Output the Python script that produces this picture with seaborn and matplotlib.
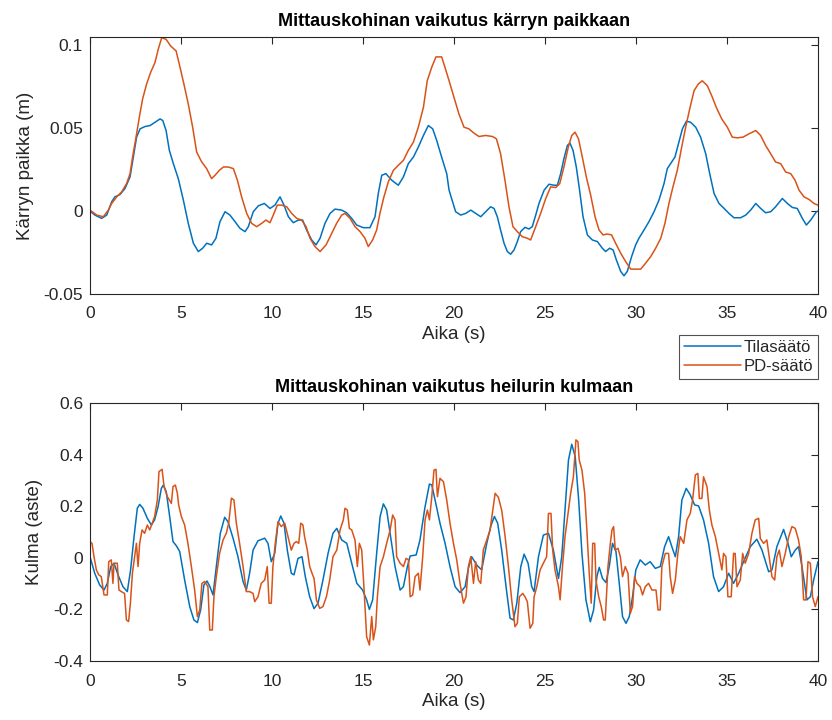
import numpy as np
import pandas as pd
import matplotlib
matplotlib.use("Agg")
import matplotlib.pyplot as plt
import seaborn as sns

# ---- data: cart position (m) ----
pos_tila_t = [0, 0.27, 0.64, 0.92, 1.19, 1.37, 1.65, 1.92, 2.2, 2.38, 2.56, 2.75, 3.02, 3.3, 3.57,
              3.85, 4.0, 4.18, 4.36, 4.58, 4.85, 5.13, 5.4, 5.68, 5.95, 6.19, 6.41, 6.68, 6.92, 7.14,
              7.42, 7.69, 7.97, 8.24, 8.52, 8.7, 8.97, 9.25, 9.58, 9.89, 10.16, 10.44, 10.66, 10.9,
              11.17, 11.45, 11.68, 11.9, 12.18, 12.42, 12.64, 12.91, 13.19, 13.46, 13.83, 14.1,
              14.38, 14.65, 15.02, 15.38, 15.66, 15.84, 16.03, 16.26, 16.58, 16.94, 17.22, 17.49,
              17.77, 18.04, 18.32, 18.59, 18.83, 19.05, 19.32, 19.6, 19.73, 20.09, 20.37, 20.64,
              20.92, 21.19, 21.47, 21.74, 22.01, 22.2, 22.38, 22.56, 22.75, 22.93, 23.11, 23.3,
              23.48, 23.66, 23.9, 24.12, 24.3, 24.49, 24.67, 24.95, 25.22, 25.49, 25.68, 25.86,
              26.04, 26.23, 26.37, 26.54, 26.72, 26.9, 27.09, 27.33, 27.6, 27.88, 28.15, 28.33,
              28.55, 28.74, 28.92, 29.16, 29.34, 29.52, 29.76, 29.98, 30.16, 30.44, 30.71, 30.99,
              31.26, 31.54, 31.72, 31.9, 32.14, 32.33, 32.55, 32.77, 33.0, 33.28, 33.55, 33.83,
              34.05, 34.29, 34.56, 34.84, 35.11, 35.38, 35.75, 36.03, 36.3, 36.58, 36.85, 37.12,
              37.4, 37.67, 38.04, 38.32, 38.59, 38.86, 39.14, 39.36, 39.6, 39.91, 40.0]
pos_tila_v = [0, -0.0024, -0.0044, -0.0024, 0.0056, 0.0086, 0.01, 0.0136, 0.0206, 0.0326, 0.0446,
              0.0496, 0.051, 0.0516, 0.0536, 0.0556, 0.0546, 0.0486, 0.0366, 0.0286, 0.0196,
              0.0066, -0.0074, -0.0194, -0.0244, -0.0224, -0.0194, -0.0204, -0.0164, -0.0064,
              -0.0004, -0.0024, -0.0064, -0.0104, -0.0124, -0.0094, -0.0004, 0.0032, 0.0046,
              0.0016, 0.0036, 0.0086, 0.0036, -0.0034, -0.007, -0.0054, -0.0054, -0.0114, -0.0174,
              -0.0204, -0.0164, -0.0074, -0.0014, 0.0012, 0.0006, -0.001, -0.0044, -0.0084, -0.01,
              -0.01, -0.0034, 0.0106, 0.0216, 0.0226, 0.0186, 0.0156, 0.0206, 0.0286, 0.0326,
              0.0386, 0.0456, 0.0516, 0.0496, 0.0426, 0.0326, 0.0226, 0.0126, -0.0004, -0.0024,
              -0.0014, 0.0006, -0.0014, -0.0034, -0.0004, 0.0026, 0.0016, -0.0034, -0.0114,
              -0.0194, -0.0244, -0.026, -0.0234, -0.0184, -0.0124, -0.0098, -0.0108, -0.0094,
              -0.0024, 0.0046, 0.0126, 0.0162, 0.0156, 0.0156, 0.0226, 0.0316, 0.0396, 0.041,
              0.0366, 0.0266, 0.0126, -0.0034, -0.0144, -0.0174, -0.0184, -0.0224, -0.0244,
              -0.0224, -0.0234, -0.0294, -0.0364, -0.039, -0.0364, -0.0274, -0.0204, -0.0164,
              -0.0114, -0.0064, -0.0004, 0.0066, 0.0166, 0.0256, 0.0286, 0.0326, 0.0406, 0.0496,
              0.0542, 0.0536, 0.0506, 0.0446, 0.0346, 0.0226, 0.0106, 0.0046, 0.0016, -0.0014,
              -0.004, -0.004, -0.0024, 0.0006, 0.0046, 0.0016, -0.001, -0.0004, 0.0026, 0.0076,
              0.0046, 0.0022, 0.0016, -0.0044, -0.0084, -0.0054, -0.0004, 0.0]

pos_pd_t = [0, 0.37, 0.73, 1.01, 1.19, 1.47, 1.74, 2.01, 2.2, 2.34, 2.53, 2.71, 2.89, 3.11, 3.33,
            3.57, 3.75, 3.94, 4.18, 4.43, 4.73, 4.95, 5.16, 5.4, 5.64, 5.86, 6.14, 6.41, 6.68, 6.87,
            7.11, 7.33, 7.6, 7.88, 8.1, 8.33, 8.61, 8.88, 9.16, 9.43, 9.67, 9.89, 10.07, 10.29,
            10.53, 10.81, 11.08, 11.36, 11.63, 11.87, 12.09, 12.36, 12.64, 12.97, 13.28, 13.55,
            13.83, 14.01, 14.29, 14.56, 14.84, 15.11, 15.29, 15.53, 15.75, 15.93, 16.15, 16.39,
            16.67, 16.94, 17.22, 17.49, 17.77, 18.04, 18.32, 18.53, 18.77, 19.01, 19.32, 19.45,
            19.73, 20.0, 20.27, 20.55, 20.82, 21.1, 21.37, 21.74, 22.11, 22.33, 22.56, 22.8, 23.02,
            23.24, 23.48, 23.75, 24.03, 24.21, 24.49, 24.76, 25.04, 25.31, 25.59, 25.81, 26.04,
            26.28, 26.47, 26.65, 26.84, 27.05, 27.27, 27.51, 27.75, 27.97, 28.19, 28.42, 28.66,
            28.88, 29.16, 29.43, 29.71, 29.98, 30.26, 30.53, 30.81, 31.08, 31.36, 31.59, 31.81,
            32.03, 32.27, 32.51, 32.73, 32.95, 33.19, 33.42, 33.64, 33.92, 34.16, 34.41, 34.71,
            35.02, 35.29, 35.57, 35.88, 36.21, 36.58, 36.85, 37.12, 37.4, 37.67, 37.95, 38.22,
            38.5, 38.74, 38.96, 39.23, 39.51, 39.78, 40.0]
pos_pd_v = [0.0006, -0.0024, -0.0034, 0.0006, 0.0046, 0.0086, 0.0116, 0.0166, 0.0226, 0.0326, 0.0446,
            0.0566, 0.0676, 0.0766, 0.0836, 0.0896, 0.0976, 0.1046, 0.1036, 0.0996, 0.0966, 0.0866,
            0.0766, 0.0646, 0.0506, 0.0356, 0.0296, 0.0256, 0.0196, 0.0216, 0.0246, 0.0266,
            0.0266, 0.0256, 0.0186, 0.0086, -0.0014, -0.0074, -0.0094, -0.0074, -0.0054, -0.007,
            -0.0024, 0.0036, 0.0036, 0.0026, -0.0014, -0.0044, -0.0054, -0.0094, -0.0164,
            -0.0214, -0.0244, -0.0204, -0.0134, -0.0074, -0.0024, -0.0014, -0.0044, -0.0094,
            -0.0124, -0.0164, -0.0214, -0.0174, -0.0114, -0.0014, 0.0086, 0.0176, 0.0246, 0.0276,
            0.0306, 0.0366, 0.0416, 0.0506, 0.0626, 0.0786, 0.0866, 0.093, 0.093, 0.0886, 0.0786,
            0.0686, 0.0586, 0.0506, 0.0496, 0.047, 0.045, 0.0456, 0.045, 0.0436, 0.0346, 0.0186,
            0.0026, -0.0094, -0.0124, -0.0154, -0.0164, -0.0174, -0.0094, -0.0014, 0.0076,
            0.0146, 0.0142, 0.0166, 0.0266, 0.0386, 0.0456, 0.0476, 0.0436, 0.0326, 0.0206,
            0.0096, -0.0034, -0.0114, -0.0144, -0.0138, -0.0144, -0.0194, -0.0254, -0.0304,
            -0.035, -0.035, -0.035, -0.0314, -0.0274, -0.0224, -0.0164, -0.0074, 0.0046, 0.0146,
            0.0246, 0.0386, 0.0506, 0.0616, 0.0726, 0.0766, 0.0786, 0.0756, 0.0696, 0.0626,
            0.0556, 0.0506, 0.0446, 0.0442, 0.0446, 0.0466, 0.0486, 0.0456, 0.0396, 0.0346,
            0.0296, 0.0286, 0.0236, 0.0226, 0.0186, 0.0126, 0.0086, 0.007, 0.0046, 0.0036]

# ---- data: pendulum angle (deg) ----
ang_tila_t = [0, 0.26, 0.53, 0.77, 0.95, 1.14, 1.32, 1.54, 1.81, 2.05, 2.23, 2.42, 2.6, 2.73, 2.91,
              3.15, 3.37, 3.55, 3.74, 3.92, 4.03, 4.19, 4.38, 4.56, 4.74, 4.93, 5.2, 5.48, 5.71, 5.9,
              6.08, 6.26, 6.43, 6.59, 6.76, 6.94, 7.16, 7.4, 7.58, 7.86, 8.13, 8.41, 8.59, 8.77, 8.96,
              9.23, 9.6, 9.78, 9.96, 10.15, 10.33, 10.48, 10.66, 10.84, 11.06, 11.21, 11.43, 11.65,
              11.83, 12.07, 12.31, 12.53, 12.8, 13.08, 13.35, 13.56, 13.83, 14.11, 14.38, 14.66,
              14.98, 15.2, 15.35, 15.53, 15.75, 15.94, 16.12, 16.3, 16.49, 16.76, 17.04, 17.22,
              17.44, 17.59, 17.92, 18.13, 18.41, 18.65, 18.78, 18.96, 19.23, 19.51, 19.78, 20.06,
              20.33, 20.61, 20.79, 20.97, 21.25, 21.52, 21.8, 22.04, 22.22, 22.4, 22.62, 22.86,
              23.08, 23.26, 23.45, 23.67, 23.85, 24.07, 24.27, 24.4, 24.64, 24.91, 25.19, 25.46,
              25.74, 25.92, 26.1, 26.29, 26.47, 26.66, 26.85, 27.03, 27.25, 27.49, 27.67, 27.85,
              27.98, 28.16, 28.35, 28.53, 28.71, 28.9, 29.08, 29.26, 29.45, 29.63, 29.81, 29.99,
              30.23, 30.51, 30.78, 31.06, 31.33, 31.57, 31.79, 31.97, 32.16, 32.34, 32.52, 32.76,
              32.98, 33.22, 33.44, 33.71, 33.99, 34.26, 34.54, 34.81, 35.09, 35.36, 35.64, 35.91,
              36.28, 36.64, 36.92, 37.29, 37.47, 37.74, 38.11, 38.35, 38.53, 38.75, 38.93, 39.12,
              39.39, 39.58, 39.76, 40.0]
ang_tila_v = [0.004, -0.06, -0.105, -0.125, -0.099, -0.034, -0.021, -0.066, -0.112, -0.131, -0.047,
              0.082, 0.192, 0.207, 0.192, 0.153, 0.127, 0.147, 0.198, 0.269, 0.282, 0.256, 0.159,
              0.063, 0.047, 0.024, -0.086, -0.189, -0.241, -0.251, -0.202, -0.105, -0.09, -0.112,
              -0.144, -0.034, 0.095, 0.157, 0.14, 0.076, 0.004, -0.092, -0.125, -0.06, 0.03, 0.066,
              0.076, 0.056, -0.015, 0.017, 0.134, 0.162, 0.134, 0.03, -0.06, -0.066, -0.002, 0.004,
              -0.073, -0.151, -0.197, -0.176, -0.086, 0.017, 0.095, 0.114, 0.069, 0.056, -0.021,
              -0.099, -0.125, -0.163, -0.2, -0.163, 0.017, 0.16, 0.209, 0.185, 0.095, -0.034, -0.125,
              -0.112, -0.034, 0.007, 0.011, 0.069, 0.198, 0.286, 0.282, 0.224, 0.134, 0.056, -0.034,
              -0.112, -0.135, -0.112, -0.041, 0.004, -0.028, -0.047, 0.056, 0.127, 0.16, 0.134, 0.03,
              -0.112, -0.234, -0.241, -0.176, -0.034, 0.014, -0.021, -0.112, -0.131, 0.004, 0.088,
              0.095, 0.03, -0.08, 0.004, 0.185, 0.379, 0.44, 0.392, 0.224, 0.017, -0.163, -0.248,
              -0.202, -0.073, -0.037, -0.08, -0.096, -0.034, 0.056, 0.024, -0.099, -0.228, -0.254,
              -0.228, -0.151, -0.047, -0.008, -0.028, -0.015, -0.041, -0.034, 0.043, 0.082, 0.043,
              0.004, 0.082, 0.224, 0.269, 0.244, 0.205, 0.201, 0.147, 0.056, -0.073, -0.131, -0.112,
              -0.06, -0.099, -0.06, -0.015, 0.043, 0.072, 0.03, -0.054, -0.047, 0.043, 0.11, 0.056,
              0.004, 0.03, 0.043, -0.034, -0.163, -0.151, -0.086, -0.015]

ang_pd_t = [0, 0.11, 0.22, 0.35, 0.48, 0.62, 0.77, 0.95, 1.03, 1.17, 1.26, 1.32, 1.5, 1.59, 1.72, 1.9,
            2.0, 2.12, 2.22, 2.33, 2.45, 2.55, 2.64, 2.73, 2.86, 3.0, 3.15, 3.28, 3.42, 3.55, 3.7,
            3.79, 3.96, 4.07, 4.25, 4.47, 4.56, 4.69, 4.8, 4.87, 5.02, 5.2, 5.38, 5.57, 5.75, 5.9,
            6.03, 6.15, 6.3, 6.48, 6.58, 6.72, 6.81, 6.94, 7.12, 7.31, 7.49, 7.62, 7.77, 7.91, 8.04,
            8.22, 8.41, 8.59, 8.77, 8.96, 9.05, 9.23, 9.41, 9.6, 9.74, 9.84, 9.96, 10.05, 10.18,
            10.33, 10.51, 10.7, 10.88, 11.06, 11.21, 11.34, 11.47, 11.58, 11.7, 11.79, 11.94, 12.07,
            12.2, 12.31, 12.44, 12.62, 12.8, 12.99, 13.17, 13.35, 13.56, 13.74, 13.92, 14.01, 14.14,
            14.25, 14.38, 14.56, 14.69, 14.8, 14.93, 15.06, 15.2, 15.35, 15.48, 15.57, 15.7, 15.79,
            15.94, 16.12, 16.3, 16.49, 16.63, 16.76, 16.85, 17.04, 17.22, 17.37, 17.5, 17.59, 17.73,
            17.86, 18.04, 18.13, 18.28, 18.41, 18.54, 18.65, 18.78, 18.9, 19.01, 19.09, 19.23,
            19.42, 19.6, 19.78, 19.97, 20.15, 20.33, 20.52, 20.66, 20.79, 20.92, 21.07, 21.19,
            21.34, 21.47, 21.61, 21.8, 21.98, 22.13, 22.26, 22.44, 22.62, 22.81, 22.99, 23.17,
            23.35, 23.48, 23.59, 23.78, 23.9, 24.03, 24.18, 24.33, 24.4, 24.55, 24.73, 24.91, 25.09,
            25.19, 25.33, 25.42, 25.55, 25.74, 25.83, 25.96, 26.1, 26.29, 26.41, 26.56, 26.7,
            26.81, 26.88, 27.03, 27.18, 27.3, 27.43, 27.54, 27.62, 27.73, 27.8, 27.95, 28.09, 28.22,
            28.31, 28.46, 28.59, 28.68, 28.77, 28.86, 29.01, 29.14, 29.26, 29.41, 29.56, 29.69,
            29.81, 29.92, 30.05, 30.23, 30.36, 30.51, 30.69, 30.88, 31.1, 31.21, 31.33, 31.42,
            31.61, 31.79, 31.88, 32.01, 32.16, 32.3, 32.43, 32.62, 32.8, 32.98, 33.11, 33.26, 33.4,
            33.48, 33.62, 33.71, 33.9, 34.03, 34.17, 34.36, 34.54, 34.72, 34.81, 34.94, 35.05,
            35.23, 35.36, 35.45, 35.55, 35.73, 35.86, 36.0, 36.19, 36.37, 36.55, 36.74, 36.83,
            37.01, 37.19, 37.32, 37.47, 37.62, 37.74, 37.87, 38.02, 38.2, 38.39, 38.57, 38.75,
            38.93, 39.08, 39.21, 39.34, 39.45, 39.58, 39.7, 39.85, 40.0]
ang_pd_v = [0.063, 0.056, 0.004, -0.047, -0.066, -0.073, -0.144, -0.144, -0.015, -0.008, -0.099,
            -0.021, -0.021, -0.125, -0.131, -0.138, -0.241, -0.247, -0.176, -0.06, 0.004, 0.056,
            -0.034, 0.056, 0.108, 0.095, 0.127, 0.108, 0.134, 0.16, 0.224, 0.334, 0.343, 0.276,
            0.237, 0.211, 0.276, 0.282, 0.25, 0.205, 0.16, 0.127, 0.056, -0.034, -0.125, -0.228,
            -0.202, -0.099, -0.092, -0.112, -0.28, -0.28, -0.151, -0.073, 0.017, 0.069, 0.095,
            0.134, 0.231, 0.224, 0.134, 0.056, -0.034, -0.131, -0.131, -0.138, -0.17, -0.151,
            -0.099, -0.086, -0.034, -0.176, -0.176, -0.034, 0.056, 0.14, 0.121, 0.134, 0.082, 0.03,
            0.056, 0.063, 0.056, 0.134, 0.127, 0.082, 0.03, -0.034, -0.06, -0.08, -0.163, -0.196,
            -0.189, -0.151, -0.086, 0.004, 0.03, 0.108, 0.147, 0.192, 0.185, 0.114, 0.108, 0.069,
            -0.034, 0.056, 0.03, -0.125, -0.306, -0.338, -0.228, -0.318, -0.267, -0.151, -0.034,
            0.004, 0.056, 0.108, 0.166, 0.147, 0.004, -0.021, -0.034, -0.002, -0.008, -0.151,
            -0.144, -0.073, -0.06, -0.125, 0.004, 0.147, 0.185, 0.147, 0.237, 0.34, 0.343, 0.237,
            0.308, 0.295, 0.224, 0.134, 0.056, -0.008, -0.099, -0.176, -0.151, -0.034, 0.004,
            -0.099, -0.015, -0.086, -0.099, 0.03, 0.069, 0.108, 0.185, 0.25, 0.234, 0.185, 0.082,
            -0.034, -0.163, -0.267, -0.254, -0.151, -0.138, -0.151, -0.17, -0.273, -0.254, -0.151,
            -0.112, -0.047, -0.021, 0.004, 0.172, 0.172, 0.03, -0.047, -0.112, -0.163, -0.034,
            0.082, 0.185, 0.25, 0.314, 0.457, 0.45, 0.379, 0.34, 0.25, 0.108, -0.06, -0.176, 0.056,
            0.056, -0.086, -0.151, -0.189, -0.241, -0.241, -0.034, 0.056, 0.108, 0.121, 0.03, 0.037,
            0.004, -0.073, -0.034, -0.06, -0.215, -0.189, -0.073, -0.099, -0.112, -0.144, -0.112,
            -0.099, -0.125, -0.125, -0.202, -0.202, -0.034, 0.017, 0.017, -0.073, -0.138, -0.086,
            0.017, 0.082, 0.056, 0.147, 0.172, 0.224, 0.321, 0.327, 0.23, 0.23, 0.314, 0.276,
            0.185, 0.127, 0.082, 0.017, -0.047, 0.017, 0.004, -0.151, -0.151, 0.017, 0.017, -0.112,
            -0.086, 0.017, -0.021, 0.017, 0.095, 0.147, 0.153, 0.075, 0.056, 0.069, 0.004, -0.073,
            -0.086, 0.004, 0.03, -0.034, 0.017, 0.082, 0.121, 0.114, 0.069, 0.004, -0.163, -0.163,
            -0.015, -0.021, -0.151, -0.189, -0.151]

labels = ["Tilasäätö", "PD-säätö"]
colors = ["#0072BD", "#D95319"]
x_ticks = [0, 5, 10, 15, 20, 25, 30, 35, 40]
pos_ticks = [-0.05, 0, 0.05, 0.1]
pos_ticklabels = ["-0.05", "0", "0.05", "0.1"]
ang_ticks = [-0.4, -0.2, 0, 0.2, 0.4, 0.6]
ang_ticklabels = ["-0.4", "-0.2", "0", "0.2", "0.4", "0.6"]

sns.set_style("white")
plt.rcParams["font.family"] = ["Liberation Sans", "DejaVu Sans"]

fig = plt.figure(figsize=(8.32, 7.2), dpi=100)
ax1 = fig.add_axes([90/832, 1-294/720, 728/832, 257/720])
ax2 = fig.add_axes([90/832, 1-661/720, 728/832, 258/720])

df1 = pd.concat([pd.DataFrame({"t": pos_tila_t, "v": pos_tila_v, "s": labels[0]}),
                 pd.DataFrame({"t": pos_pd_t, "v": pos_pd_v, "s": labels[1]})])
df2 = pd.concat([pd.DataFrame({"t": ang_tila_t, "v": ang_tila_v, "s": labels[0]}),
                 pd.DataFrame({"t": ang_pd_t, "v": ang_pd_v, "s": labels[1]})])

for ax, df in [(ax1, df1), (ax2, df2)]:
    sns.lineplot(data=df, x="t", y="v", hue="s", palette=colors, estimator=None,
                 sort=False, linewidth=1.1, ax=ax, legend=(ax is ax1))

ax1.set_xlim(0, 40)
ax1.set_ylim(-0.05, 0.105)
ax1.set_yticks(pos_ticks)
ax1.set_yticklabels(pos_ticklabels)
ax2.set_xlim(0, 40)
ax2.set_ylim(-0.4, 0.6)
ax2.set_yticks(ang_ticks)
ax2.set_yticklabels(ang_ticklabels)

tc = "#262626"
for ax in (ax1, ax2):
    ax.set_xticks(x_ticks)
    ax.tick_params(direction="in", length=5, width=0.8, colors=tc,
                   labelsize=12.5, top=True, right=True)
    ax.tick_params(axis="x", pad=9)
    ax.tick_params(axis="y", pad=5)
    for sp in ax.spines.values():
        sp.set_color(tc)
        sp.set_linewidth(0.8)
    ax.set_xlabel("Aika (s)", fontsize=13.5, color=tc, labelpad=3)

ax1.set_ylabel("Kärryn paikka (m)", fontsize=13.5, color=tc, labelpad=7)
ax2.set_ylabel("Kulma (aste)", fontsize=13.5, color=tc, labelpad=7)
ax1.set_title("Mittauskohinan vaikutus kärryn paikkaan", fontsize=13,
              fontweight="bold", color="black", pad=8)
ax2.set_title("Mittauskohinan vaikutus heilurin kulmaan", fontsize=13,
              fontweight="bold", color="black", pad=8)

h, l = ax1.get_legend_handles_labels()
ax1.get_legend().remove()
leg = fig.legend(h, l, loc="upper right", bbox_to_anchor=(818/832, 1-335/720),
                 fontsize=12, frameon=True, fancybox=False, edgecolor=tc,
                 handlelength=3.4, borderpad=0.3, labelspacing=0.25, handletextpad=0.15,
                 borderaxespad=0)
leg.get_frame().set_linewidth(0.8)
for line in leg.get_lines():
    line.set_linewidth(1.1)

fig.savefig("out.png", dpi=100)
